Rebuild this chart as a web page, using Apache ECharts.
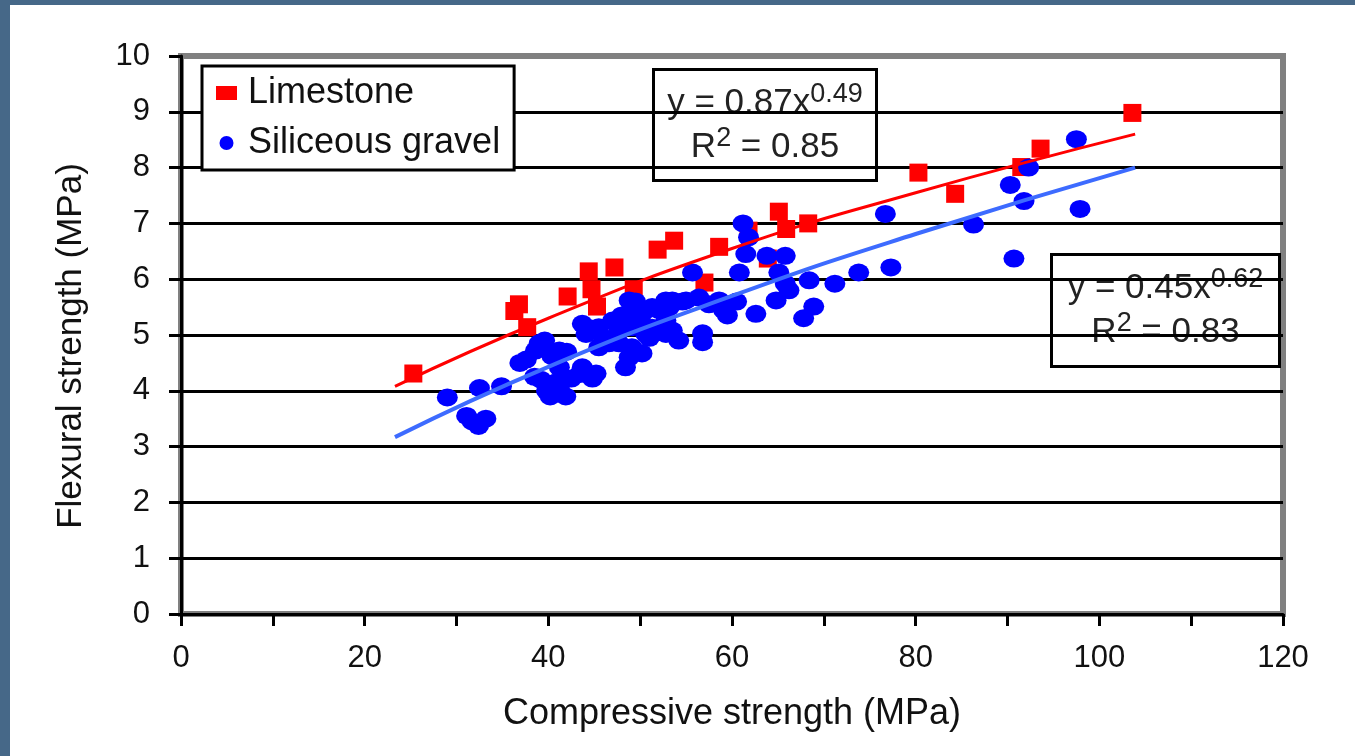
<!DOCTYPE html>
<html>
<head>
<meta charset="utf-8">
<script src="https://cdn.jsdelivr.net/npm/echarts@6/dist/echarts.min.js"></script>
<style>
  html, body { margin: 0; padding: 0; background: #fff; }
  #chart { width: 1355px; height: 756px; }
</style>
</head>
<body>
<div id="chart"></div>
<script>
// compressive strength (MPa), flexural strength (MPa)
const limestone = [
  [25.3, 4.31], [36.3, 5.43], [36.8, 5.55], [37.7, 5.14], [42.1, 5.69],
  [44.4, 6.14], [44.7, 5.82], [45.3, 5.51], [47.2, 6.21], [49.3, 5.82],
  [51.9, 6.53], [52.8, 5.33], [53.7, 6.69], [57.0, 5.94], [58.6, 6.58],
  [61.8, 6.87], [63.9, 6.37], [65.1, 7.21], [65.9, 6.9], [68.3, 7.0],
  [80.3, 7.91], [84.3, 7.53], [91.5, 8.01], [93.6, 8.34], [103.6, 8.98]
]
const gravel = [
  [29.0, 3.88], [31.1, 3.55], [31.7, 3.45], [32.4, 3.37], [33.2, 3.5],
  [32.5, 4.05], [34.9, 4.08], [36.9, 4.5], [37.6, 4.56],
  [38.6, 4.72], [39.0, 4.85], [39.6, 4.9], [40.4, 4.62], [41.2, 4.72],
  [42.0, 4.7], [38.5, 4.25], [39.2, 4.2], [39.8, 4.0], [40.2, 3.9],
  [40.8, 4.15], [41.2, 4.05], [41.9, 3.9], [41.2, 4.42], [42.5, 4.22],
  [43.4, 4.3], [43.7, 4.42], [44.8, 4.22], [45.2, 4.31],
  [43.7, 5.2], [44.1, 5.02], [44.5, 5.12], [45.5, 5.14], [45.5, 4.78],
  [46.0, 4.95], [46.6, 4.85], [47.0, 5.26], [47.7, 5.08], [47.7, 4.85],
  [48.0, 5.35], [48.4, 4.42], [48.8, 4.6], [48.8, 5.62], [49.1, 5.49],
  [49.1, 5.14], [49.1, 4.78], [49.5, 5.6], [50.0, 5.3], [50.2, 4.67],
  [50.6, 5.44], [50.6, 5.02], [51.0, 4.95], [51.3, 5.5], [51.3, 5.13],
  [52.0, 5.45], [52.8, 5.62], [52.8, 5.26], [52.8, 5.02], [53.2, 5.5],
  [53.5, 5.62], [53.5, 5.08], [54.2, 4.9], [54.6, 5.6], [55.0, 5.62],
  [55.7, 6.12], [56.4, 5.67], [56.8, 5.03], [56.8, 4.87], [57.5, 5.55],
  [58.6, 5.62], [59.1, 5.44], [59.5, 5.35], [60.5, 5.6],
  [60.8, 6.12], [61.2, 7.0], [61.8, 6.75], [61.5, 6.45], [62.6, 5.38],
  [63.8, 6.42], [64.8, 5.62], [65.1, 6.12], [65.8, 5.92], [65.8, 6.42],
  [66.2, 5.8], [67.8, 5.3], [68.4, 5.98], [68.9, 5.51], [71.2, 5.92],
  [73.8, 6.12], [76.7, 7.17], [77.3, 6.21], [86.3, 6.98], [90.3, 7.69],
  [90.7, 6.37], [91.8, 7.4], [92.3, 8.0], [97.5, 8.51], [97.9, 7.26]
]
// trend curves
const limestoneTrend = [[23.3, 4.08], [40, 5.3], [60, 6.55], [80, 7.55], [103.9, 8.6]]
const gravelTrend = [[23.3, 3.17], [40, 4.43], [60, 5.7], [80, 6.81], [103.9, 8.0]]

const seriesNames = ['Limestone', 'Siliceous gravel']
const xTitle = 'Compressive strength (MPa)'
const yTitle = 'Flexural strength (MPa)'
const eqLimestone = ['y = 0.87x', '0.49', '0.85']
const eqGravel = ['y = 0.45x', '0.62', '0.83']

const FONT = '"Liberation Sans", Arial, sans-serif'

const eqBox = (left, top, w, h, eq) => ({
  type: 'group',
  left: left,
  top: top,
  children: [
    {
      type: 'rect',
      shape: { x: 0, y: 0, width: w, height: h },
      style: { fill: '#fff', stroke: '#000', lineWidth: 3 },
    },
    {
      type: 'text',
      x: w / 2,
      y: h / 2,
      style: {
        text: `{m|${eq[0]}}{s|${eq[1]}}\n{m|R}{s|2}{m| = ${eq[2]}}`,
        align: 'center',
        verticalAlign: 'middle',
        fill: '#222',
        rich: {
          m: { fontSize: 35, fontFamily: FONT, lineHeight: 44, fill: '#222' },
          s: { fontSize: 27, fontFamily: FONT, lineHeight: 44, verticalAlign: 'top', fill: '#222', padding: [0, 0, 12, 0] },
        },
      },
    },
  ],
})

const chart = echarts.init(document.getElementById('chart'))
chart.setOption({
  animation: false,
  backgroundColor: '#fff',
  grid: {
    left: 181, right: 72, top: 56, bottom: 142,
    show: true, borderColor: '#808080', borderWidth: 6, backgroundColor: '#fff',
  },
  legend: {
    orient: 'vertical',
    left: 202, top: 66,
    padding: [7, 14, 7, 14],
    itemGap: 10,
    itemWidth: 21, itemHeight: 14,
    borderColor: '#000', borderWidth: 3,
    backgroundColor: '#fff',
    textStyle: { fontSize: 36, fontFamily: FONT, color: '#111', lineHeight: 40, padding: [0, 0, 0, 6] },
    data: [
      { name: seriesNames[0], icon: 'rect' },
      { name: seriesNames[1], icon: 'circle' },
    ],
  },
  xAxis: {
    type: 'value', min: 0, max: 120, interval: 10,
    name: xTitle, nameLocation: 'middle', nameGap: 82,
    nameTextStyle: { fontSize: 36, fontFamily: FONT, color: '#111' },
    axisLine: { onZero: false, lineStyle: { color: '#000', width: 3 } },
    axisTick: { length: 12, lineStyle: { color: '#000', width: 3 } },
    axisLabel: {
      margin: 29, fontSize: 31, fontFamily: FONT, color: '#111',
      formatter: (v) => (v % 20 === 0 ? String(v) : ''),
    },
    splitLine: { show: false },
  },
  yAxis: {
    type: 'value', min: 0, max: 10, interval: 1,
    name: yTitle, nameLocation: 'middle', nameGap: 92,
    nameTextStyle: { fontSize: 35, fontFamily: FONT, color: '#111', padding: [0, 22, 0, 0] },
    axisLine: { show: true, lineStyle: { color: '#000', width: 3 } },
    axisTick: { show: true, length: 12, lineStyle: { color: '#000', width: 3 } },
    axisLabel: { margin: 31, fontSize: 31, fontFamily: FONT, color: '#111' },
    splitLine: { show: true, showMaxLine: false, lineStyle: { color: '#000', width: 3 } },
  },
  graphic: [
    { type: 'rect', left: 0, top: 0, shape: { width: 1355, height: 5 }, style: { fill: '#466888' } },
    { type: 'rect', left: 0, top: 0, shape: { width: 10, height: 756 }, style: { fill: '#466888' } },
    eqBox(652, 68, 223, 111, eqLimestone),
    eqBox(1050, 253, 228, 112, eqGravel),
  ],
  series: [
    {
      name: seriesNames[0], type: 'scatter', data: limestone,
      symbol: 'rect', symbolSize: 18,
      itemStyle: { color: '#ff0000', opacity: 1 },
    },
    {
      name: seriesNames[1], type: 'scatter', data: gravel,
      symbol: 'circle', symbolSize: [21, 18],
      itemStyle: { color: '#0000ff', opacity: 1 },
    },
    {
      type: 'line', data: limestoneTrend, smooth: true, showSymbol: false,
      lineStyle: { color: '#ff0000', width: 3 }, z: 3,
    },
    {
      type: 'line', data: gravelTrend, smooth: true, showSymbol: false,
      lineStyle: { color: '#3d6bff', width: 4 }, z: 3,
    },
  ],
})
</script>
</body>
</html>
